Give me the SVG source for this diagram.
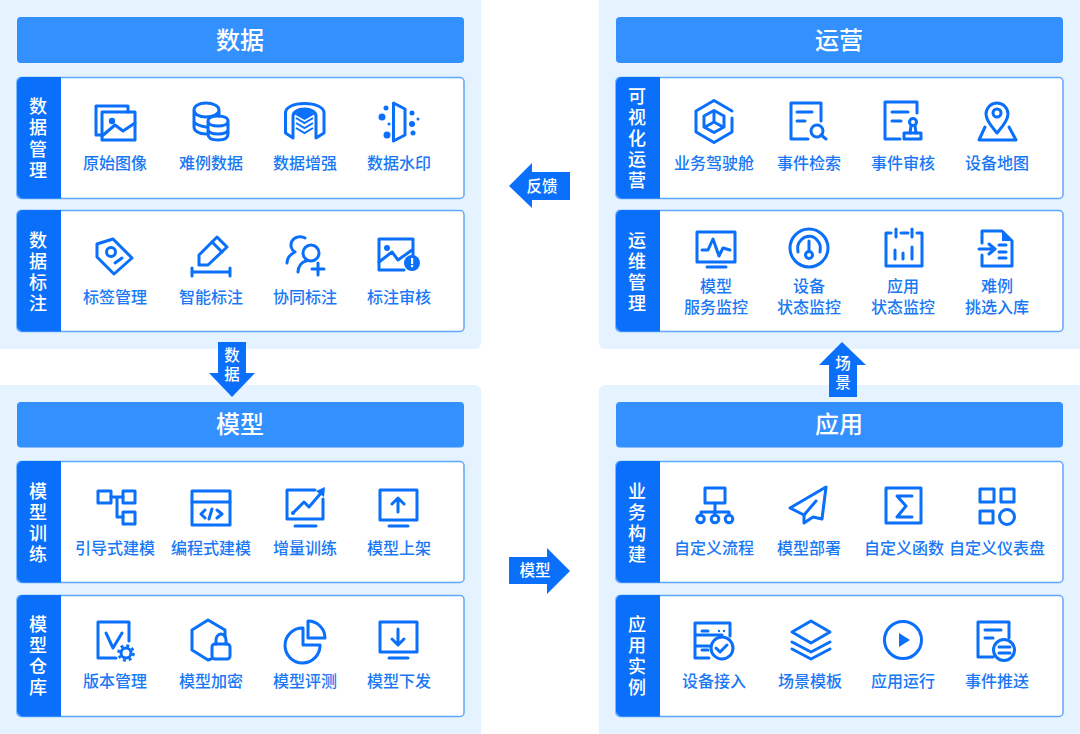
<svg xmlns="http://www.w3.org/2000/svg" width="1080" height="734" viewBox="0 0 1080 734">
<style>
text{font-family:"Noto Sans CJK SC","Noto Sans",sans-serif;font-weight:500;text-anchor:middle}
.panel{fill:#e4f3ff}
.head{fill:#3390ff}
.row{fill:#fff;stroke:#5fa6fc;stroke-width:1.500}
.tab{fill:#0a6ffa}
.ht{font-size:24px;fill:#fff}
.tt{font-size:18px;fill:#fff}
.lb{font-size:16px;fill:#1a78f5}
.at{font-size:15.500px;fill:#fff}
.arrow{fill:#0a6ffa}
.s{fill:none;stroke:#0a6ffa;stroke-width:3;stroke-linejoin:round;stroke-linecap:round}
.w{fill:#fff;stroke:#0a6ffa;stroke-width:3;stroke-linejoin:round;stroke-linecap:round}
.f{fill:#0a6ffa}
</style>
<defs>
<path id="tabL" d="M23 0H44V121.500H23H6a6 6 0 0 1-6-6V6a6 6 0 0 1 6-6Z"/>
</defs>

<g id="panel-data">
<rect class="panel" x="-8" y="-8" width="489" height="357" rx="6"/>
<rect class="head" x="17" y="17" width="447" height="46" rx="4"/>
<text class="ht" x="240" y="49">数据</text>
</g>
<g id="panel-model">
<rect class="panel" x="-8" y="385" width="489" height="357" rx="6"/>
<rect class="head" x="17" y="402" width="447" height="45.500" rx="4"/>
<text class="ht" x="240" y="433">模型</text>
</g>
<g id="panel-ops">
<rect class="panel" x="599" y="-8" width="489" height="357" rx="6"/>
<rect class="head" x="616" y="17" width="447" height="46" rx="4"/>
<text class="ht" x="839" y="49">运营</text>
</g>
<g id="panel-app">
<rect class="panel" x="599" y="385" width="489" height="357" rx="6"/>
<rect class="head" x="616" y="402" width="447" height="45.500" rx="4"/>
<text class="ht" x="839" y="433">应用</text>
</g>

<g id="row-data-manage">
<rect class="row" x="17" y="77.500" width="447" height="121" rx="4"/>
<use href="#tabL" class="tab" x="17" y="77"/>
<text class="tt" x="38"><tspan x="38" y="113">数</tspan><tspan x="38" y="134">据</tspan><tspan x="38" y="156">管</tspan><tspan x="38" y="177">理</tspan></text>
</g>
<g id="row-data-label">
<rect class="row" x="17" y="210.500" width="447" height="121" rx="4"/>
<use href="#tabL" class="tab" x="17" y="210"/>
<text class="tt" x="38"><tspan x="38" y="247">数</tspan><tspan x="38" y="268">据</tspan><tspan x="38" y="289">标</tspan><tspan x="38" y="310">注</tspan></text>
</g>
<g id="row-model-train">
<rect class="row" x="17" y="461.500" width="447" height="121" rx="4"/>
<use href="#tabL" class="tab" x="17" y="461"/>
<text class="tt" x="38"><tspan x="38" y="498">模</tspan><tspan x="38" y="519">型</tspan><tspan x="38" y="540">训</tspan><tspan x="38" y="561">练</tspan></text>
</g>
<g id="row-model-repo">
<rect class="row" x="17" y="595.500" width="447" height="121" rx="4"/>
<use href="#tabL" class="tab" x="17" y="595"/>
<text class="tt" x="38"><tspan x="38" y="631">模</tspan><tspan x="38" y="652">型</tspan><tspan x="38" y="673">仓</tspan><tspan x="38" y="694">库</tspan></text>
</g>
<g id="row-ops-visual">
<rect class="row" x="616" y="77.500" width="447" height="121" rx="4"/>
<use href="#tabL" class="tab" x="616" y="77"/>
<text class="tt" x="637"><tspan x="637" y="103">可</tspan><tspan x="637" y="124">视</tspan><tspan x="637" y="145">化</tspan><tspan x="637" y="166">运</tspan><tspan x="637" y="187">营</tspan></text>
</g>
<g id="row-ops-maint">
<rect class="row" x="616" y="210.500" width="447" height="121" rx="4"/>
<use href="#tabL" class="tab" x="616" y="210"/>
<text class="tt" x="637"><tspan x="637" y="247">运</tspan><tspan x="637" y="268">维</tspan><tspan x="637" y="289">管</tspan><tspan x="637" y="310">理</tspan></text>
</g>
<g id="row-app-build">
<rect class="row" x="616" y="461.500" width="447" height="121" rx="4"/>
<use href="#tabL" class="tab" x="616" y="461"/>
<text class="tt" x="637"><tspan x="637" y="498">业</tspan><tspan x="637" y="519">务</tspan><tspan x="637" y="540">构</tspan><tspan x="637" y="561">建</tspan></text>
</g>
<g id="row-app-inst">
<rect class="row" x="616" y="595.500" width="447" height="121" rx="4"/>
<use href="#tabL" class="tab" x="616" y="595"/>
<text class="tt" x="637"><tspan x="637" y="631">应</tspan><tspan x="637" y="652">用</tspan><tspan x="637" y="673">实</tspan><tspan x="637" y="694">例</tspan></text>
</g>

<g id="n-raw-image">
<path class="s" d="M102 135H96V106H128V112"/>
<rect class="s" x="102" y="112" width="33" height="28"/>
<circle class="f" cx="112" cy="121" r="3.200"/>
<path class="s" d="M102 136L115 125L123 131L135 123"/>
<text class="lb" x="115" y="169">原始图像</text>
</g>
<g id="n-hard-data">
<path class="s" d="M194 110V127C194 131 199 134 206 134M194 110C194 106 199 103 206 103S219 106 219 110V116M194 110C194 114 199 117 206 117S219 114 219 110M194 122C196 125 200 126 206 127"/>
<path class="s" d="M208 121V134C208 138 212 140 218 140S228 138 228 134V121M208 121C208 118 212 116 218 116S228 118 228 121S224 126 218 126S208 124 208 121M208 130C209 133 213 134 218 134S227 133 228 130"/>
<text class="lb" x="211" y="169">难例数据</text>
</g>
<g id="n-data-augment">
<path class="s" d="M285.500 113C285.500 107 294 103.500 304.500 103.500S324 107 324 113V133L316 138V116C316 112 311 109 304.500 109S293 112 293 116V138L285.500 133Z"/>
<path class="f" d="M304.500 108L315 114L304.500 120L294 114Z"/>
<path d="M296 118L304.500 123L313 118M296 123L304.500 128L313 123M296 128L304.500 133L313 128" fill="none" stroke="#0a6ffa" stroke-width="2"/>
<text class="lb" x="305" y="169">数据增强</text>
</g>
<g id="n-data-watermark">
<path class="s" d="M393.500 103L405 109V135L393.500 141Z"/>
<circle class="f" cx="386" cy="108" r="2.500"/><circle class="f" cx="382" cy="117" r="3.500"/><circle class="f" cx="389" cy="124" r="1.500"/><circle class="f" cx="387" cy="135" r="3.500"/>
<circle class="f" cx="412" cy="113" r="2.500"/><circle class="f" cx="418" cy="119" r="1.500"/><circle class="f" cx="412" cy="124" r="3"/><circle class="f" cx="413" cy="133" r="2.500"/>
<text class="lb" x="399" y="169">数据水印</text>
</g>

<g id="n-tag">
<path class="s" d="M97 244L113 239L132 258L114 274L97 257Z"/>
<circle class="s" cx="111" cy="252" r="4.500"/>
<path class="s" d="M115 263L122 258"/>
<text class="lb" x="115" y="303">标签管理</text>
</g>
<g id="n-smart-label">
<path class="s" d="M217 237L227 247L208 265H199V255Z"/>
<path class="s" d="M212 242L222 252"/>
<path class="s" d="M192 272H230M192 268V276M230 268V276"/>
<text class="lb" x="211" y="303">智能标注</text>
</g>
<g id="n-co-label">
<circle class="s" cx="311" cy="253" r="8"/>
<path class="s" d="M298 272C298 266 302 262 306 261M305 238C302 236 295 236 292 241C290 245 291 250 295 252C291 254 287 258 287 263"/>
<path class="s" d="M318 263V275M312 269H324"/>
<text class="lb" x="305" y="303">协同标注</text>
</g>
<g id="n-label-review">
<path class="s" d="M404 270H379V239H413V256"/>
<circle class="f" cx="387" cy="248" r="3"/>
<path class="s" d="M379 262L392 252L398 260L412 250"/>
<circle class="f" cx="412" cy="263" r="8"/>
<rect x="411" y="258" width="2.200" height="6" fill="#fff"/><rect x="411" y="265" width="2.200" height="2.200" fill="#fff"/>
<text class="lb" x="399" y="303">标注审核</text>
</g>

<g id="n-guided">
<rect class="s" x="98" y="491" width="13" height="12"/><rect class="s" x="123" y="491" width="12" height="12"/><rect class="s" x="123" y="512" width="12" height="12"/>
<path class="s" d="M111 497H123M117 497V517H123"/>
<text class="lb" x="115" y="554">引导式建模</text>
</g>
<g id="n-coding">
<rect class="s" x="192" y="491" width="38" height="34"/>
<path class="s" d="M192 502H230M205 510L201 514L205 518M217 510L222 514L217 518M212 509L209 519"/>
<text class="lb" x="211" y="554">编程式建模</text>
</g>
<g id="n-incremental">
<path class="s" d="M315 490H287V519H323V499M295 526H316"/>
<path class="s" d="M293 513L304 502L309 507L321 493"/>
<path class="f" d="M325 487L324 497L316 491Z"/>
<circle class="f" cx="293" cy="513" r="2"/>
<text class="lb" x="305" y="554">增量训练</text>
</g>
<g id="n-publish">
<rect class="s" x="380" y="490" width="37" height="30"/>
<path class="s" d="M389 526H408M398 512V499M392 504L398 498L404 504"/>
<text class="lb" x="399" y="554">模型上架</text>
</g>

<g id="n-version">
<path class="s" d="M116 658H98V622H129V641"/>
<path class="s" d="M106 633L113 648L122 633"/>
<circle class="s" cx="126" cy="653" r="5"/>
<circle cx="126" cy="653" r="7.500" fill="none" stroke="#0a6ffa" stroke-width="2.600" stroke-dasharray="3 2.900"/>
<text class="lb" x="115" y="687">版本管理</text>
</g>
<g id="n-encrypt">
<path class="s" d="M211 659L208 660L192 650V630L208 620L225 630V637"/>
<rect class="s" x="212" y="644" width="18" height="15" rx="3"/>
<path class="s" d="M216 644V640C216 636 219 634 221 634S226 636 226 640V644"/>
<text class="lb" x="211" y="687">模型加密</text>
</g>
<g id="n-evaluate">
<path class="s" d="M303 628A17.500 17.500 0 1 0 320 645H303Z"/>
<path class="s" d="M308 621A17 17 0 0 1 325 638H308Z"/>
<text class="lb" x="305" y="687">模型评测</text>
</g>
<g id="n-deliver">
<rect class="s" x="380" y="622" width="37" height="30"/>
<path class="s" d="M389 658H408M398 629V644M392 639L398 645L404 639"/>
<text class="lb" x="399" y="687">模型下发</text>
</g>

<g id="n-cockpit">
<path class="s" d="M732 111L714 100.500L696 111V132L714 142.500L732 132V118"/>
<path class="s" d="M714 110.500L724 116V127L714 132.500L704 127V116Z"/>
<path class="s" d="M714 111V122L705 127M714 122L723 127"/>
<text class="lb" x="714" y="169">业务驾驶舱</text>
</g>
<g id="n-search">
<path class="s" d="M808 139H791V103H821V121M797 112H812M797 121H805"/>
<circle class="s" cx="817" cy="131" r="6"/>
<path class="s" d="M821 135L826 139"/>
<text class="lb" x="809" y="169">事件检索</text>
</g>
<g id="n-event-review">
<path class="s" d="M900 139H885V102H917V113M892 112H908M892 121H901"/>
<circle class="s" cx="913" cy="122" r="3.500"/>
<path class="s" d="M911 126L910 133M915 126L916 133"/>
<rect class="s" x="904" y="133" width="17" height="6"/>
<text class="lb" x="903" y="169">事件审核</text>
</g>
<g id="n-map">
<path class="s" d="M997 133C993 128 986 121 986 114A11 11 0 0 1 1008 114C1008 121 1001 128 997 133Z"/>
<circle class="s" cx="997" cy="113" r="4"/>
<path class="s" d="M985 127L979 140H1016L1009 127"/>
<text class="lb" x="997" y="169">设备地图</text>
</g>

<g id="n-model-monitor">
<rect class="s" x="697" y="232" width="38" height="30"/>
<path class="s" d="M707 267H726"/>
<path class="s" d="M702 250H708L713 239L719 256L723 248L730 250"/>
<text class="lb" x="716" y="292">模型</text><text class="lb" x="716" y="313">服务监控</text>
</g>
<g id="n-device-monitor">
<circle class="s" cx="809" cy="248" r="19"/>
<path class="s" d="M798 252C797 247 798 243 801 240C806 235 813 235 817 240C820 243 821 247 820 252"/>
<path class="s" d="M809 241V251"/>
<circle class="s" cx="809" cy="255" r="3.500"/>
<text class="lb" x="809" y="292">设备</text><text class="lb" x="809" y="313">状态监控</text>
</g>
<g id="n-app-monitor">
<path class="s" d="M891 233H886V266H922V233H917M901 233H908M896 229V237M912 229V237"/>
<path class="s" d="M895 250V259M903 253V259M912 247V259"/>
<text class="lb" x="903" y="292">应用</text><text class="lb" x="903" y="313">状态监控</text>
</g>
<g id="n-select">
<path class="s" d="M982 243V231H1002L1012 241V266H982V255"/>
<path class="f" d="M1002 230L1013 241H1002Z"/>
<path class="s" d="M979 249H994M989 244L995 249L989 254M999 245H1006M999 252H1006M999 258H1006"/>
<text class="lb" x="997" y="292">难例</text><text class="lb" x="997" y="313">挑选入库</text>
</g>

<g id="n-flow">
<rect class="s" x="705" y="488" width="20" height="15"/>
<path class="s" d="M715 503V519M701 515V512H729V515"/>
<circle class="w" cx="700.500" cy="519" r="3.800"/><circle class="w" cx="715" cy="519" r="3.800"/><circle class="w" cx="729" cy="519" r="3.800"/>
<text class="lb" x="714" y="554">自定义流程</text>
</g>
<g id="n-deploy">
<path class="s" d="M826 487L790 508L804 515V523L813 517L822 519Z"/>
<path class="s" d="M804 515L816 501"/>
<text class="lb" x="809" y="554">模型部署</text>
</g>
<g id="n-func">
<rect class="s" x="886" y="488" width="35" height="35"/>
<path class="s" d="M912 496H897L906 506L897 517H912"/>
<text class="lb" x="904" y="554">自定义函数</text>
</g>
<g id="n-dash">
<rect class="s" x="980" y="489" width="14" height="13"/><rect class="s" x="1001" y="489" width="13" height="13"/><rect class="s" x="980" y="511" width="13" height="12"/>
<circle class="s" cx="1007" cy="517" r="7.500"/>
<text class="lb" x="997" y="554">自定义仪表盘</text>
</g>

<g id="n-access">
<path class="s" d="M709 658H695V623H730V636M695 635H722M695 646H709M702 631H708M702 650H708"/>
<circle cx="719" cy="631" r="1.200" class="f"/><circle cx="724" cy="631" r="1.200" class="f"/>
<circle class="w" cx="722" cy="648" r="11"/>
<path class="s" d="M716 648L720 652L727 645"/>
<text class="lb" x="714" y="687">设备接入</text>
</g>
<g id="n-scene">
<path class="s" d="M811 621L830 632L811 643L792 632Z"/>
<path class="s" d="M792 642L811 652L830 642M792 649L811 659L830 649"/>
<text class="lb" x="810" y="687">场景模板</text>
</g>
<g id="n-run">
<circle class="s" cx="903" cy="640" r="18.500"/>
<path class="f" d="M899 633L910 640L899 647Z"/>
<text class="lb" x="903" y="687">应用运行</text>
</g>
<g id="n-push">
<path class="s" d="M993 657H978V622H1009V638"/>
<path class="s" d="M985 630H1001M985 638H993"/>
<circle class="w" cx="1004" cy="650" r="10.500"/>
<path class="s" d="M999 647H1010M999 653H1010" stroke-width="2.200"/>
<text class="lb" x="997" y="687">事件推送</text>
</g>

<g id="connectors">
<g id="c-feedback"><path class="arrow" d="M509 186L532 163V172H570V200H532V208Z"/><text class="at" x="542" y="192">反馈</text></g>
<g id="c-data"><path class="arrow" d="M218 342H246V373H255L232 397L209 373H218Z"/><text class="at"><tspan x="232" y="361">数</tspan><tspan x="232" y="380">据</tspan></text></g>
<g id="c-model"><path class="arrow" d="M509 557H547V548L570 571L547 594V584H509Z"/><text class="at" x="535" y="576">模型</text></g>
<g id="c-scene"><path class="arrow" d="M829 397V365H819L842 342L866 365H857V397Z"/><text class="at"><tspan x="843" y="369">场</tspan><tspan x="843" y="388">景</tspan></text></g>
</g>
</svg>
